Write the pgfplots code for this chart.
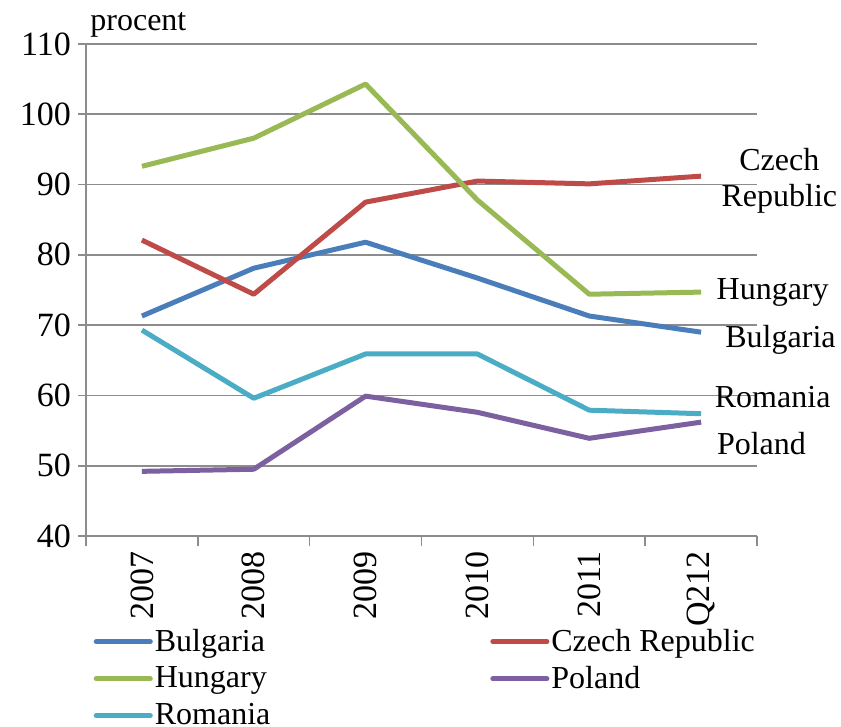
\documentclass[border=0pt]{standalone}
\usepackage{fontspec}
\setmainfont{Liberation Serif}
\usepackage{pgfplots}
\pgfplotsset{compat=1.18}
\definecolor{cBul}{HTML}{4A7EBB}
\definecolor{cCze}{HTML}{BE4B48}
\definecolor{cHun}{HTML}{98B954}
\definecolor{cPol}{HTML}{7D60A0}
\definecolor{cRom}{HTML}{4BACC6}
\definecolor{gridc}{HTML}{8C8C8C}
\begin{document}
\begin{tikzpicture}
\begin{axis}[
  name=ax,
  scale only axis,
  width=335.5pt, height=246pt,
  xmin=-0.5, xmax=5.5, ymin=40, ymax=110,
  clip=false,
  /pgf/number format/assume math mode=true,
  axis x line*=bottom, axis y line*=left,
  axis line style={gridc, line width=0.8pt, -},
  xtick={0,1,2,3,4,5},
  xticklabels={2007,2008,2009,2010,2011,Q212},
  x tick label style={rotate=90, anchor=east, font=\fontsize{17}{19}\selectfont},
  major x tick style={draw=none},
  minor xtick={-0.5,0.5,1.5,2.5,3.5,4.5,5.5},
  minor x tick style={gridc, line width=0.8pt},
  minor tick length=5pt,
  xtick align=outside,
  ytick={40,50,...,110},
  ytick align=outside,
  major tick length=4pt,
  y tick style={gridc, line width=0.8pt},
  y tick label style={font=\fontsize{17}{19}\selectfont},
  ymajorgrids,
  grid style={gridc, line width=0.8pt},
  every axis plot/.append style={line width=2.5pt, line join=round},
  legend style={at={(0.002,-0.172)}, anchor=north west, draw=none, fill=none,
    font=\fontsize{16}{18}\selectfont, row sep=2pt,
    legend cell align=left,
    /tikz/every even column/.append style={column sep=109pt},
    nodes={inner xsep=1pt}},
  legend columns=2,
  legend image code/.code={\draw[#1, line cap=round] (0cm,0cm) -- (0.95cm,0cm);},
]
\addplot[cBul] coordinates {(0,71.3) (1,78.1) (2,81.8) (3,76.7) (4,71.3) (5,69.0)};
\addlegendentry{Bulgaria}
\addplot[cCze] coordinates {(0,82.1) (1,74.4) (2,87.5) (3,90.5) (4,90.1) (5,91.2)};
\addlegendentry{Czech Republic}
\addplot[cHun] coordinates {(0,92.6) (1,96.6) (2,104.3) (3,87.8) (4,74.4) (5,74.7)};
\addlegendentry{Hungary}
\addplot[cPol] coordinates {(0,49.2) (1,49.5) (2,59.9) (3,57.6) (4,53.9) (5,56.2)};
\addlegendentry{Poland}
\addplot[cRom] coordinates {(0,69.3) (1,59.6) (2,65.9) (3,65.9) (4,57.9) (5,57.4)};
\addlegendentry{Romania}
\node[align=center, font=\fontsize{16}{18}\selectfont] at (axis cs:5.70,90.6) {Czech\\Republic};
\node[font=\fontsize{16}{18}\selectfont] at (axis cs:5.64,74.7) {Hungary};
\node[font=\fontsize{16}{18}\selectfont] at (axis cs:5.71,67.9) {Bulgaria};
\node[font=\fontsize{16}{18}\selectfont] at (axis cs:5.64,59.8) {Romania};
\node[font=\fontsize{16}{18}\selectfont] at (axis cs:5.54,53.2) {Poland};
\node[anchor=base west, inner sep=0pt, font=\fontsize{16}{18}\selectfont] at (rel axis cs:0,1) [xshift=2pt, yshift=6.5pt] {procent};
\end{axis}
\pgfresetboundingbox
\path ([xshift=-43pt, yshift=-95pt]ax.south west) rectangle ([xshift=42pt, yshift=22pt]ax.north east);
\end{tikzpicture}
\end{document}
